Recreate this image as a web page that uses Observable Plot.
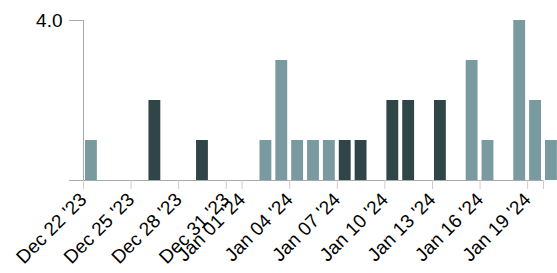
<!DOCTYPE html>
<html><head>
<meta charset="utf-8">
<script src="https://cdn.jsdelivr.net/npm/d3@7"></script>
<script src="https://cdn.jsdelivr.net/npm/@observablehq/plot@0.6"></script>
<style>
body{margin:0;background:#fff;} svg{display:block;}
</style>
</head><body><div id="chart"></div>
<script>
const dates = ["2023-12-22","2023-12-26","2023-12-29","2024-01-02","2024-01-03","2024-01-04","2024-01-05","2024-01-06","2024-01-07","2024-01-08","2024-01-10","2024-01-11","2024-01-13","2024-01-15","2024-01-16","2024-01-18","2024-01-19","2024-01-20"];
const counts = [1,2,1,1,3,1,1,1,1,1,2,2,2,3,1,4,2,1];
const groups = ["A","B","B","A","A","A","A","A","B","B","B","B","B","A","A","A","A","A"];
const groupColors = {A: "#799ba0", B: "#2f4548"};
const tickDates = ["2023-12-22","2023-12-25","2023-12-28","2023-12-31","2024-01-01","2024-01-04","2024-01-07","2024-01-10","2024-01-13","2024-01-16","2024-01-19","2024-01-20"];
const unlabeledTick = "2024-01-20";
const yTicks = [0, 4];
const xDomain = ["2023-12-22", "2024-01-20"];

const DAY = 864e5;
const data = dates.map((d, i) => ({date: new Date(d), count: counts[i], group: groups[i]}));
const fmt = d3.utcFormat("%b %d '%y");
const noLabel = +new Date(unlabeledTick);

const chart = Plot.plot({
  width: 557,
  height: 273,
  marginLeft: 83,
  marginRight: 14,
  marginTop: 20,
  marginBottom: 93,
  style: {fontFamily: "'Liberation Sans', Arial, sans-serif", background: "#fff"},
  x: {type: "utc", domain: xDomain.map(d => new Date(d))},
  y: {domain: [0, 4]},
  color: {domain: Object.keys(groupColors), range: Object.values(groupColors)},
  marks: [
    Plot.rectY(data, {
      x1: "date",
      x2: d => new Date(+d.date + DAY),
      y: "count",
      fill: "group",
      insetLeft: 2,
      insetRight: 2
    }),
    Plot.ruleY([0], {stroke: "#aaa", strokeWidth: 1}),
    Plot.ruleX([new Date(xDomain[0])], {y1: 0, y2: 4, stroke: "#aaa", strokeWidth: 1}),
    Plot.axisY({
      ticks: yTicks,
      tickSize: 14,
      tickPadding: 7,
      stroke: "#aaa",
      fill: "#000",
      fontSize: 19,
      tickFormat: d => d === 4 ? "4.0" : "",
      label: null
    }),
    Plot.axisX({
      ticks: tickDates.map(d => new Date(d)),
      tickSize: 9,
      tickPadding: 7,
      tickRotate: -45,
      stroke: "#ccc",
      fill: "#000",
      fontSize: 19,
      tickFormat: d => +d === noLabel ? "" : fmt(d),
      label: null
    })
  ]
});
document.getElementById("chart").appendChild(chart);
</script>
</body></html>
